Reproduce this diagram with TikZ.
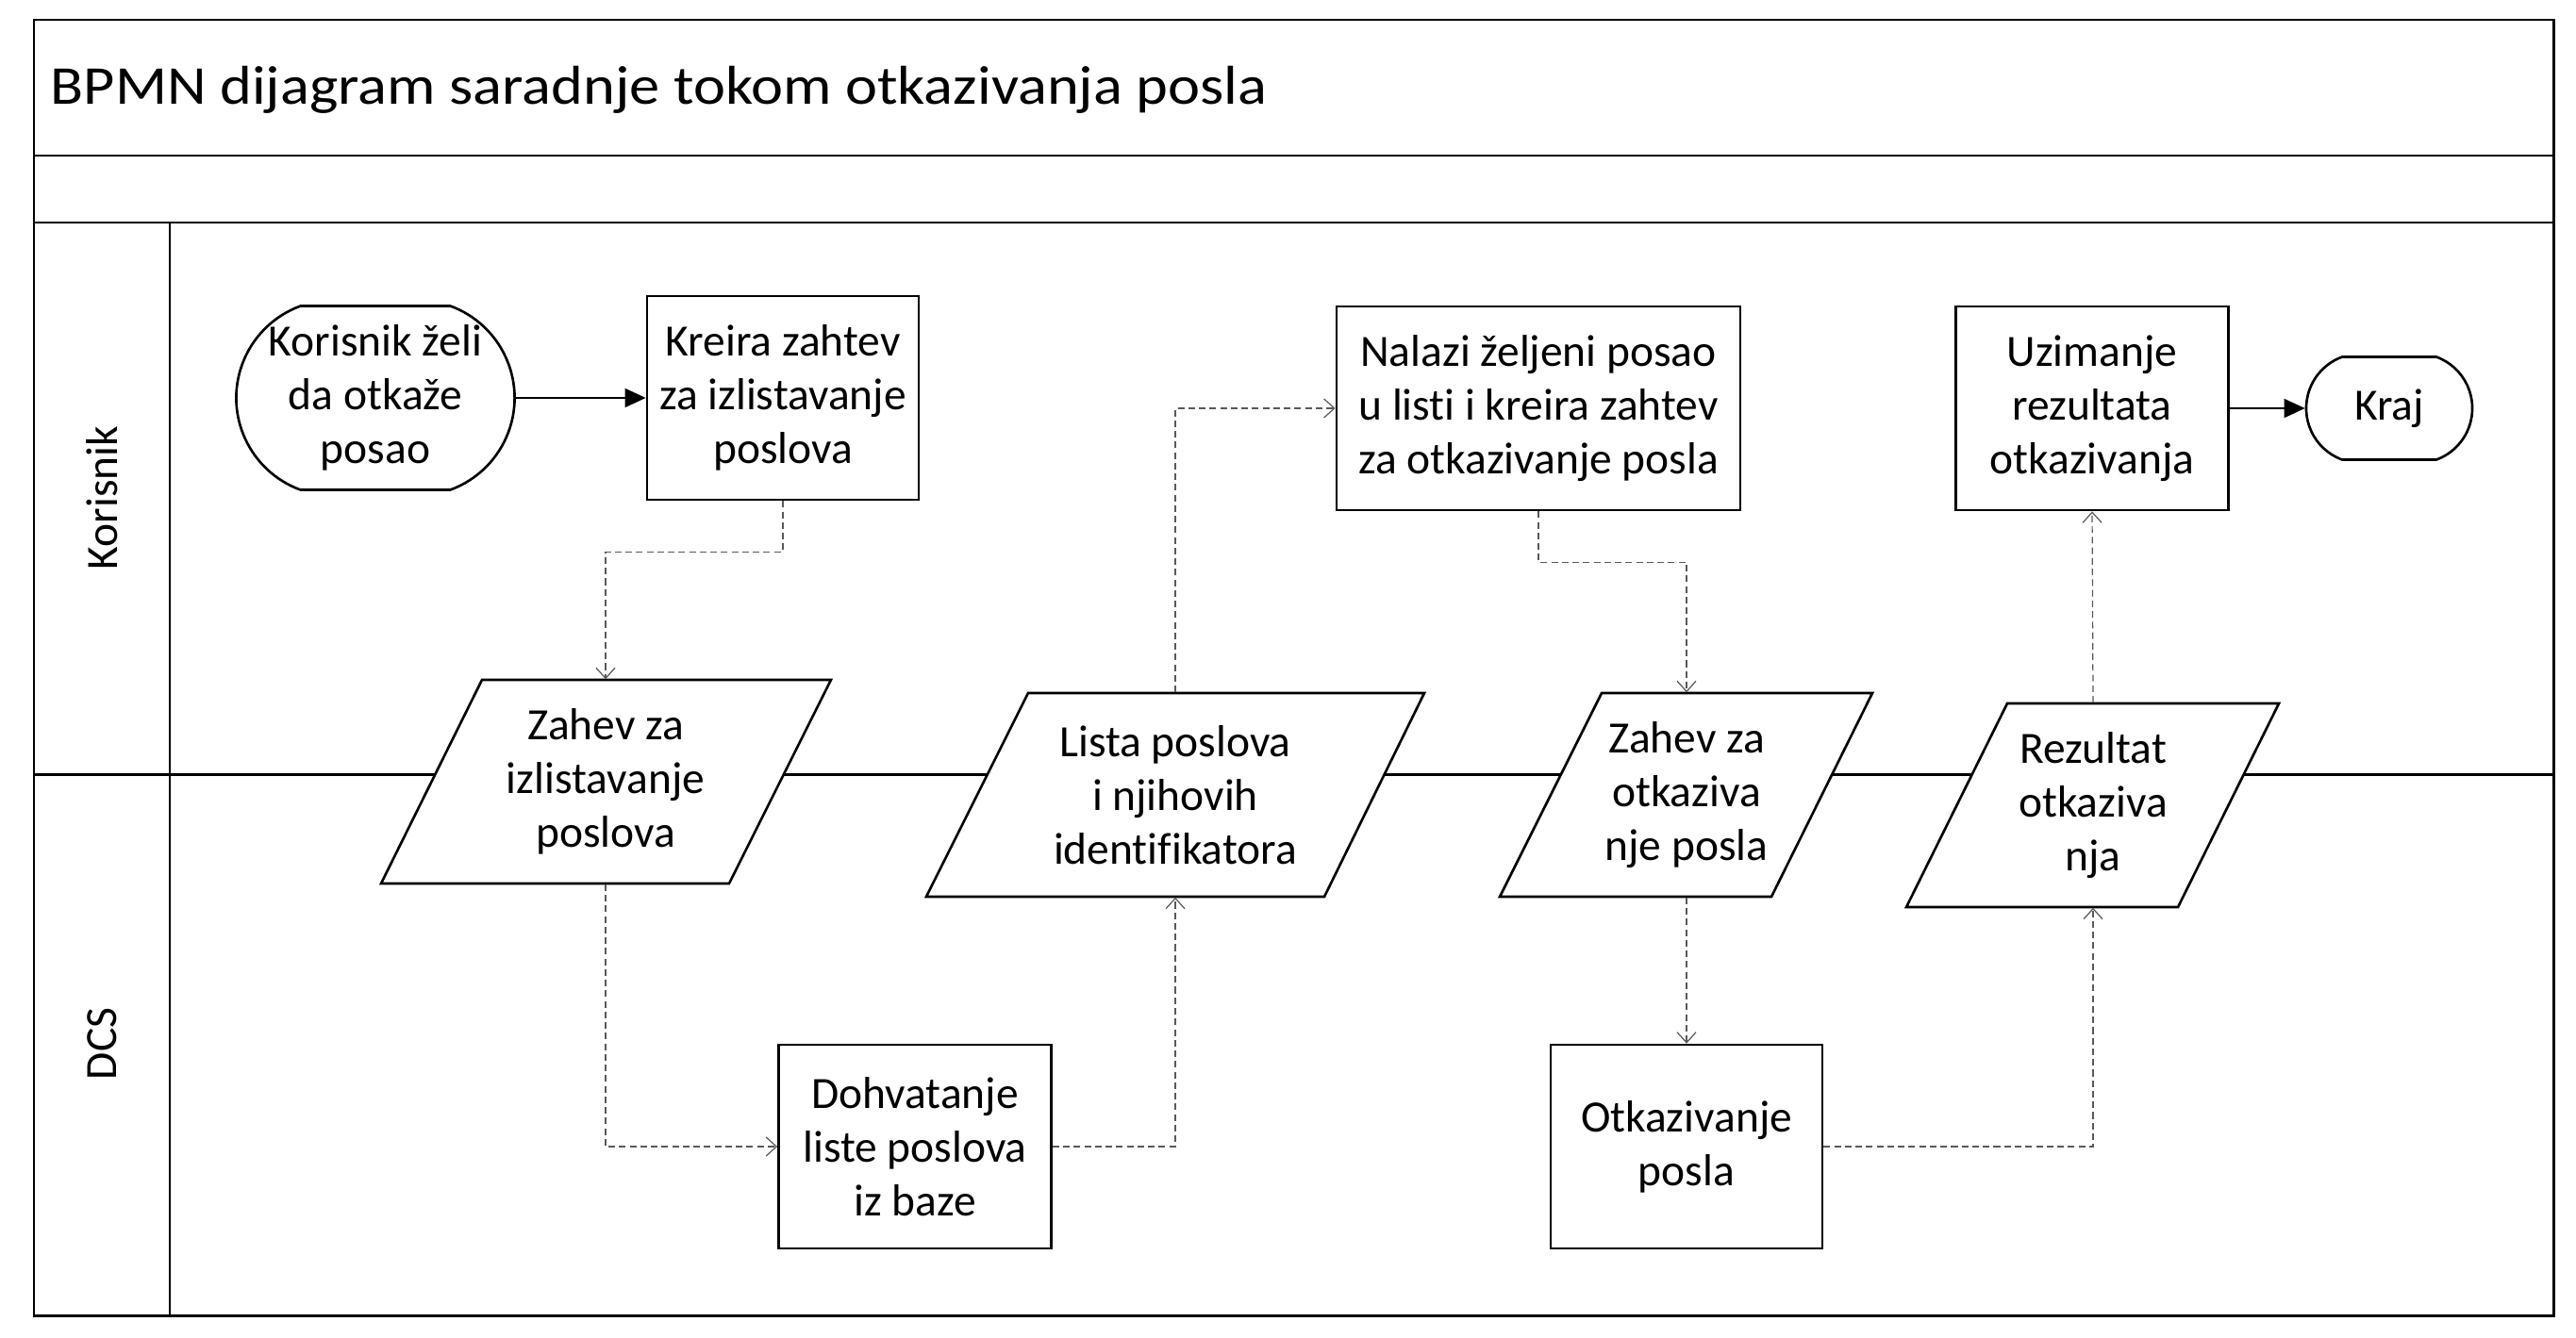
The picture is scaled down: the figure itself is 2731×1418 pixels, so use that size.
\documentclass[tikz,border=0pt]{standalone}
\usepackage{fontspec}
\setmainfont{Carlito}[Ligatures=NoCommon]
\usetikzlibrary{arrows.meta,shapes.misc}

\begin{document}
\begin{tikzpicture}[x=0.01cm,y=-0.01cm,
    every node/.style={font=\fontsize{13.5}{16.2}\selectfont,align=center,inner sep=0pt},
    lane/.style={line width=0.85pt},
    task/.style={draw,line width=0.75pt,fill=white,minimum height=2.16cm},
    terminal/.style={draw,line width=0.75pt,fill=white,rounded rectangle,rounded rectangle arc length=140},
    io/.style={draw,line width=0.75pt,fill=white},
    iotext/.style={minimum height=2.16cm},
    flow/.style={line width=0.45pt,-{Triangle[length=2.2mm,width=2mm]}},
    msg/.style={draw=black!65,line width=0.35pt,dash pattern=on 2pt off 1.2pt,-{Straight Barb[length=1.1mm,width=2mm]}}]
    \useasboundingbox (0,0) rectangle (2731,1418);
    \draw[lane] (36,21) rectangle (2707,1395);
    \draw[lane] (36,165) -- (2707,165);
    \draw[lane] (36,236) -- (2707,236);
    \draw[lane] (180,236) -- (180,1395);
    \draw[lane] (36,821) -- (2707,821);
    \node[anchor=base west,xscale=1.11,font=\fontsize{16.5}{20}\selectfont] (title) at (53,110) {BPMN dijagram saradnje tokom otkazivanja posla};
    \node[rotate=90] (korisnik) at (108,528) {Korisnik};
    \node[rotate=90] (dcs) at (108,1107) {DCS};
    \draw[io] (511,721) -- (881,721) -- (773,937) -- (404,937) -- cycle;
    \draw[io] (1090,735) -- (1510,735) -- (1404,951) -- (982,951) -- cycle;
    \draw[io] (1698,735) -- (1985,735) -- (1878,951) -- (1590,951) -- cycle;
    \draw[io] (2128,746) -- (2416,746) -- (2309,962) -- (2021,962) -- cycle;
    \node[terminal,minimum width=2.86cm,minimum height=1.95cm] (start) at (398,422) {Korisnik želi\\da otkaže\\posao};
    \node[task,minimum width=2.88cm] (kreira) at (830,422) {Kreira zahtev\\za izlistavanje\\poslova};
    \node[task,minimum width=4.28cm] (nalazi) at (1631,433) {Nalazi željeni posao\\u listi i kreira zahtev\\za otkazivanje posla};
    \node[task,minimum width=2.89cm] (uzimanje) at (2218,433) {Uzimanje\\rezultata\\otkazivanja};
    \node[terminal,minimum width=1.76cm,minimum height=1.09cm] (kraj) at (2533,433) {Kraj};
    \node[iotext] (zahevlist) at (642,829) {Zahev za\\izlistavanje\\poslova};
    \node[iotext] (lista) at (1246,843) {Lista poslova\\i njihovih\\identifikatora};
    \node[iotext] (zahevotk) at (1788,843) {Zahev za\\otkaziva\\nje posla};
    \node[iotext] (rezultat) at (2219,854) {Rezultat\\otkaziva\\nja};
    \node[task,minimum width=2.89cm] (dohvatanje) at (970,1216) {Dohvatanje\\liste poslova\\iz baze};
    \node[task,minimum width=2.88cm] (otkazivanje) at (1788,1216) {Otkazivanje\\posla};
    \draw[flow] (start) -- (kreira);
    \draw[flow] (uzimanje) -- (kraj);
    \draw[msg] (kreira.south) -- ++(0,54) -| (zahevlist.north);
    \draw[msg] (zahevlist.south) |- (dohvatanje.west);
    \draw[msg] (dohvatanje.east) -| (lista.south);
    \draw[msg] (lista.north) |- (nalazi.west);
    \draw[msg] (nalazi.south) -- ++(0,54) -| (zahevotk.north);
    \draw[msg] (zahevotk.south) -- (otkazivanje.north);
    \draw[msg] (otkazivanje.east) -| (rezultat.south);
    \draw[msg] (rezultat.north) -- (uzimanje.south);
\end{tikzpicture}
\end{document}
